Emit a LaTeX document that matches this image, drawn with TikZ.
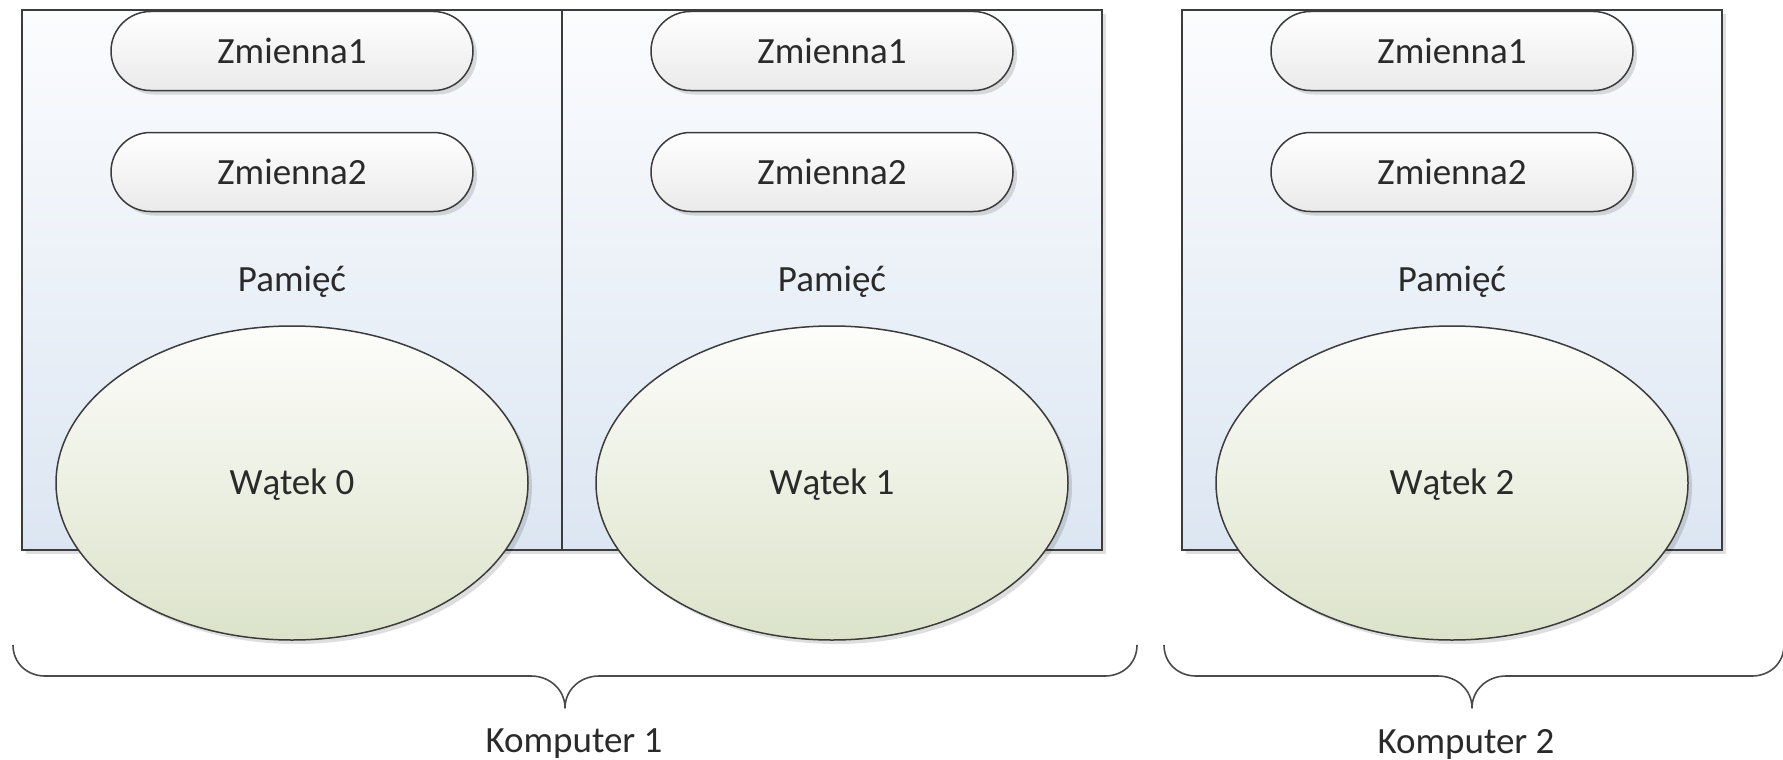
\documentclass[tikz,border=0pt]{standalone}
\usepackage{fontspec}
\setmainfont{Carlito}
\usetikzlibrary{shapes.geometric,shapes.misc,shadows}

\definecolor{edge}{HTML}{3C3C3C}
\definecolor{ink}{HTML}{2A2A2A}
\definecolor{memtop}{HTML}{FBFCFE}
\definecolor{membot}{HTML}{DCE6F2}
\definecolor{thrtop}{HTML}{FDFDFB}
\definecolor{thrbot}{HTML}{DCE3CA}
\definecolor{vartop}{HTML}{FFFFFF}
\definecolor{varbot}{HTML}{EAEAEA}
\definecolor{bracecol}{HTML}{4A4A4A}

\begin{document}
\begin{tikzpicture}[
  x=1pt, y=-1pt,
  font=\fontsize{37}{41}\selectfont,
  every node/.style={text=ink},
  softshadow/.style={drop shadow={shadow xshift=4pt, shadow yshift=-4pt, opacity=0.13, fill=black}},
  memblock/.style={rectangle, draw=edge, line width=1.5pt, top color=memtop, bottom color=membot,
    minimum width=540pt, minimum height=540pt, inner sep=0pt, softshadow},
  varpill/.style={rounded rectangle, draw=edge, line width=1.5pt, top color=vartop, bottom color=varbot,
    minimum width=362pt, minimum height=79pt, inner sep=0pt, softshadow},
  threadoval/.style={ellipse, draw=edge, line width=1.5pt, top color=thrtop, bottom color=thrbot,
    minimum width=472pt, minimum height=314pt, inner sep=0pt, softshadow},
  captiontext/.style={inner sep=0pt},
  bracepath/.style={draw=bracecol, line width=1.6pt, line join=round}
]
\useasboundingbox (0,0) rectangle (1783,760);

% memory blocks
\node[memblock] (mem0) at (292,280) {};
\node[memblock] (mem1) at (832,280) {};
\node[memblock] (mem2) at (1452,280) {};

% memory captions
\node[captiontext] (pam0) at (292,282) {Pamięć};
\node[captiontext] (pam1) at (832,282) {Pamięć};
\node[captiontext] (pam2) at (1452,282) {Pamięć};

% variables
\node[varpill] (v01) at (292,51) {Zmienna1};
\node[varpill] (v02) at (292,172) {Zmienna2};
\node[varpill] (v11) at (832,51) {Zmienna1};
\node[varpill] (v12) at (832,172) {Zmienna2};
\node[varpill] (v21) at (1452,51) {Zmienna1};
\node[varpill] (v22) at (1452,172) {Zmienna2};

% threads
\node[threadoval] (t0) at (292,483) {};
\node[threadoval] (t1) at (832,483) {};
\node[threadoval] (t2) at (1452,483) {};
\node[captiontext] (w0) at (292,485) {Wątek 0};
\node[captiontext] (w1) at (832,485) {Wątek 1};
\node[captiontext] (w2) at (1452,485) {Wątek 2};

% braces grouping the threads per computer
\coordinate (b1l) at (13,645);
\coordinate (b1tip) at (565,708);
\coordinate (b1r) at (1137,645);
\coordinate (b2l) at (1164,645);
\coordinate (b2tip) at (1472,708);
\coordinate (b2r) at (1784,645);

\draw[bracepath] (b1l) .. controls (13,663) and (27,676) .. (45,676) -- (531,676)
  .. controls (550,676) and (565,690) .. (b1tip)
  .. controls (565,690) and (580,676) .. (599,676) -- (1105,676)
  .. controls (1123,676) and (1137,663) .. (b1r);
\draw[bracepath] (b2l) .. controls (1164,663) and (1178,676) .. (1196,676) -- (1438,676)
  .. controls (1457,676) and (1472,690) .. (b2tip)
  .. controls (1472,690) and (1487,676) .. (1506,676) -- (1752,676)
  .. controls (1770,676) and (1784,663) .. (b2r);

\node[captiontext] (k1) at (574,744) {Komputer 1};
\node[captiontext] (k2) at (1466,744) {Komputer 2};
\end{tikzpicture}
\end{document}
